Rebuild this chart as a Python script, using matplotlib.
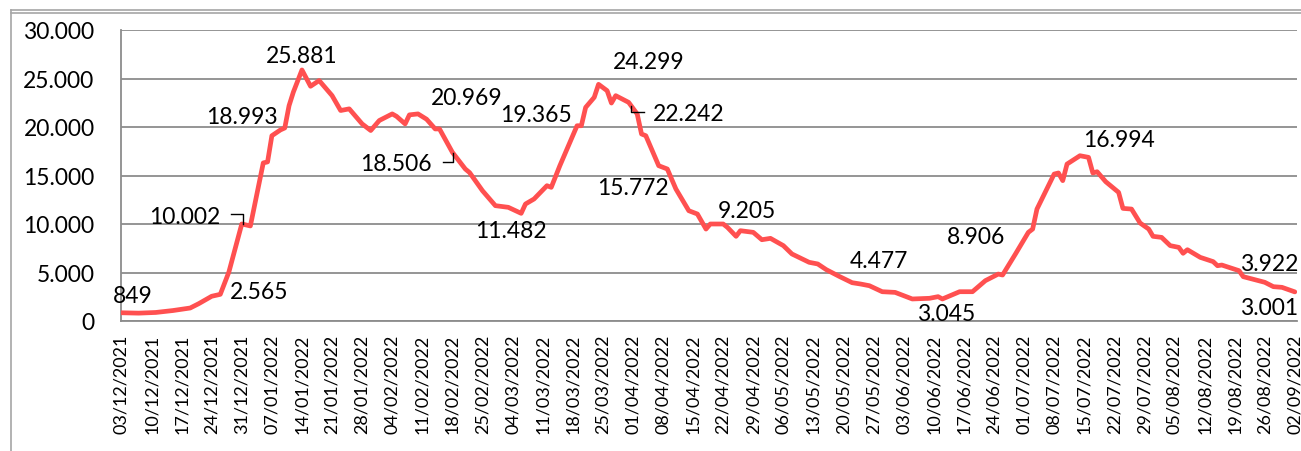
import pandas as pd
import matplotlib.pyplot as plt
from matplotlib.lines import Line2D
from matplotlib.ticker import FuncFormatter

plt.rcParams['font.family'] = ['Lato', 'DejaVu Sans']

# Days since 03/12/2021 and the daily value
days = [0, 4, 8, 12, 16, 18, 21, 23, 25, 28, 30, 33, 34, 35, 37, 38, 39, 40, 42,
        44, 46, 49, 51, 53, 56, 58, 60, 63, 64, 66, 67, 69, 71, 73, 74, 77, 80,
        81, 84, 87, 90, 93, 94, 96, 99, 100, 102, 104, 106, 107, 108, 110, 111,
        113, 114, 115, 118, 120, 121, 122, 125, 127, 129, 132, 134, 136, 137,
        140, 141, 143, 144, 147, 149, 151, 154, 156, 160, 162, 164, 167, 170,
        172, 174, 177, 180, 182, 184, 188, 190, 191, 195, 198, 201, 204, 205,
        208, 211, 212, 213, 217, 218, 219, 220, 223, 225, 226, 227, 229, 232,
        233, 235, 237, 239, 240, 242, 244, 246, 247, 248, 251, 254, 255, 256,
        260, 261, 266, 268, 270, 273]
values = [849, 810, 880, 1080, 1340, 1790, 2550, 2750, 5050, 10002, 9800, 16300,
          16400, 19100, 19700, 19900, 22200, 23600, 25881, 24200, 24790, 23240,
          21700, 21870, 20320, 19640, 20670, 21350, 21100, 20320, 21250, 21350,
          20800, 19800, 19800, 17390, 15670, 15300, 13430, 11890, 11720, 11100,
          12060, 12580, 13950, 13780, 16010, 18070, 20130, 20130, 22020, 23060,
          24400, 23740, 22470, 23230, 22540, 21340, 19280, 19100, 16010, 15670,
          13610, 11370, 11030, 9480, 10000, 10000, 9650, 8730, 9310, 9140, 8380,
          8520, 7770, 6910, 6050, 5880, 5290, 4600, 3950, 3810, 3640, 3020, 2950,
          2610, 2270, 2340, 2510, 2270, 3020, 3020, 4160, 4840, 4740, 6910, 9140,
          9480, 11540, 15150, 15260, 14470, 16180, 17040, 16870, 15260, 15390,
          14360, 13260, 11610, 11540, 10100, 9480, 8730, 8620, 7770, 7590, 6980,
          7350, 6560, 6120, 5700, 5770, 5190, 4570, 3990, 3540, 3470, 3001]

# Data labels: text, day offset, value, alignment
labels = [("849", -2.1, 2680, "left"), ("2.565", 25.3, 2990, "left"),
          ("10.002", 23.0, 10820, "right"), ("18.993", 36.3, 21130, "right"),
          ("25.881", 41.9, 27420, "center"), ("18.506", 72.3, 16190, "right"),
          ("20.969", 71.9, 22990, "left"), ("19.365", 88.1, 21340, "left"),
          ("11.482", 82.3, 9280, "left"), ("24.299", 114.4, 26800, "left"),
          ("22.242", 123.7, 21440, "left"), ("15.772", 110.7, 13810, "left"),
          ("9.205", 138.8, 11440, "left"), ("4.477", 169.5, 6190, "left"),
          ("3.045", 185.1, 820, "left"), ("8.906", 192.1, 8760, "left"),
          ("16.994", 223.7, 18660, "left"), ("3.922", 260.2, 5880, "left"),
          ("3.001", 260.2, 1440, "left")]

# leader lines (day offsets, values)
leaders = [([25.6, 28.4, 28.4], [11030, 11030, 10000]),
           ([74.7, 77.2, 77.2], [16390, 16390, 17320]),
           ([118.5, 118.5, 121.6], [22160, 21550, 21550])]

start = pd.Timestamp("2021-12-03")
dates = start + pd.to_timedelta(days, unit="D")
ticks = pd.date_range(start, periods=40, freq="7D")

fig = plt.figure(figsize=(13.01, 4.52), dpi=100)
ax = fig.add_axes([121 / 1301, 1 - 322 / 452, (1297 - 121) / 1301, (322 - 31) / 452])

ax.plot(dates, values, color='#FF5050', linewidth=3.4,
        solid_joinstyle='round', solid_capstyle='round', zorder=3)

for txt, d, v, ha in labels:
    ax.text(start + pd.Timedelta(days=d), v, txt, ha=ha, va='center',
            fontsize=16.5, color='black', zorder=4)
for xs, ys in leaders:
    ax.plot([start + pd.Timedelta(days=d) for d in xs], ys, color='black',
            linewidth=1.0, zorder=4)

ax.set_ylim(0, 30000)
ax.set_xlim(start - pd.Timedelta(days=0.1), start + pd.Timedelta(days=273.5))
ax.set_yticks(range(0, 30001, 5000))
ax.yaxis.set_major_formatter(FuncFormatter(lambda v, p: f"{v:,.0f}".replace(",", ".")))
ax.set_xticks(ticks)
ax.set_xticklabels([t.strftime("%d/%m/%Y") for t in ticks], rotation=90)
ax.tick_params(axis='y', length=0, pad=19, labelsize=16.5)
ax.tick_params(axis='x', length=0, pad=9, labelsize=13)

ax.grid(axis='y', color='#8C8C8C', linewidth=1.3)
ax.set_axisbelow(True)
for side in ['top', 'right']:
    ax.spines[side].set_visible(False)
ax.spines['left'].set_color('#8C8C8C')
ax.spines['bottom'].set_color('#8C8C8C')
ax.spines['left'].set_linewidth(1.3)
ax.spines['bottom'].set_linewidth(1.3)

# outer chart frame (top double line and left edge)
W, H = 1301, 452
for y in (10.5, 14):
    fig.add_artist(Line2D([11 / W, 1], [1 - y / H, 1 - y / H], color='#A6A6A6', linewidth=1.2))
fig.add_artist(Line2D([11 / W, 11 / W], [1 - 10.5 / H, 0], color='#A6A6A6', linewidth=1.2))

fig.savefig('out.png', dpi=100)
